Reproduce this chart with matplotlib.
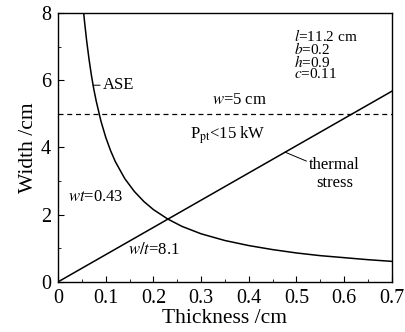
import numpy as np
import matplotlib.pyplot as plt
from matplotlib.ticker import MultipleLocator

plt.rcParams['font.family'] = 'Liberation Serif'
plt.rcParams['mathtext.fontset'] = 'stix'

# ASE limit, wt = 0.43
ase_t = [0.054, 0.056, 0.06, 0.065, 0.07, 0.075, 0.08, 0.09, 0.10, 0.11, 0.12, 0.14,
         0.16, 0.18, 0.20, 0.23, 0.26, 0.30, 0.35, 0.40, 0.45, 0.50, 0.55, 0.60, 0.65, 0.70]
ase_w = [7.96, 7.68, 7.17, 6.62, 6.14, 5.73, 5.38, 4.78, 4.30, 3.91, 3.58, 3.07,
         2.69, 2.39, 2.15, 1.87, 1.65, 1.43, 1.23, 1.08, 0.96, 0.86, 0.78, 0.72, 0.66, 0.61]
# thermal stress limit, w/t = 8.1
ts_t = [0.0, 0.7]
ts_w = [0.0, 5.67]
# power limit
w_limit = 5
# parameters shown in the corner
params = ['$l$=11.2 cm', '$b$=0.2', '$h$=0.9', '$c$=0.11']

fig = plt.figure(figsize=(4.06, 3.32), dpi=100)
ax = fig.add_axes([0.143, 0.151, 0.822, 0.810])

ax.plot(ase_t, ase_w, color='black', lw=1.1)
ax.plot(ts_t, ts_w, color='black', lw=1.1)
ax.axhline(w_limit, color='black', lw=0.9, ls=(0, (4, 3)))

ax.set_xlim(0, 0.7)
ax.set_ylim(0, 8)
ax.xaxis.set_major_locator(MultipleLocator(0.1))
ax.xaxis.set_minor_locator(MultipleLocator(0.05))
ax.yaxis.set_major_locator(MultipleLocator(2))
ax.yaxis.set_minor_locator(MultipleLocator(1))
ax.xaxis.set_major_formatter(plt.FuncFormatter(lambda v, p: '0' if abs(v) < 1e-9 else f'{v:.1f}'))
ax.tick_params(which='both', direction='in', top=False, right=False, labelsize=14.5)
ax.tick_params(which='major', length=4)
ax.tick_params(which='minor', length=2)
ax.tick_params(axis='x', which='major', pad=5)
ax.tick_params(axis='y', which='major', pad=5)
for s in ax.spines.values():
    s.set_linewidth(1.0)

ax.set_xlabel('Thickness /cm', fontsize=15.5, labelpad=1)
ax.set_ylabel('Width /cm', fontsize=15.5, labelpad=2)

fs = 12
ax.text(0.495, 7.55, '\n'.join(params), fontsize=11, va='top', linespacing=0.76)

ax.annotate('ASE', xy=(0.0735, 5.85), xytext=(0.094, 5.85), fontsize=fs, va='center',
            arrowprops=dict(arrowstyle='-', lw=0.7, color='black', shrinkA=0, shrinkB=0))
ax.text(0.38, 5.4, '$w$=5 cm', fontsize=fs, ha='center', va='center')
ax.text(0.277, 4.35, 'P$_{\\mathrm{pt}}$<15 kW', fontsize=fs, va='center')
ax.annotate('thermal\nstress', xy=(0.476, 3.86), xytext=(0.58, 3.2), fontsize=fs,
            ha='center', va='center',
            arrowprops=dict(arrowstyle='-', lw=0.7, color='black', shrinkA=0, shrinkB=0,
                            relpos=(0.0, 0.85)))
ax.text(0.021, 2.52, '$wt$=0.43', fontsize=fs, va='center')
ax.text(0.147, 0.95, '$w/t$=8.1', fontsize=fs, va='center')

fig.savefig('out.png', dpi=100)
